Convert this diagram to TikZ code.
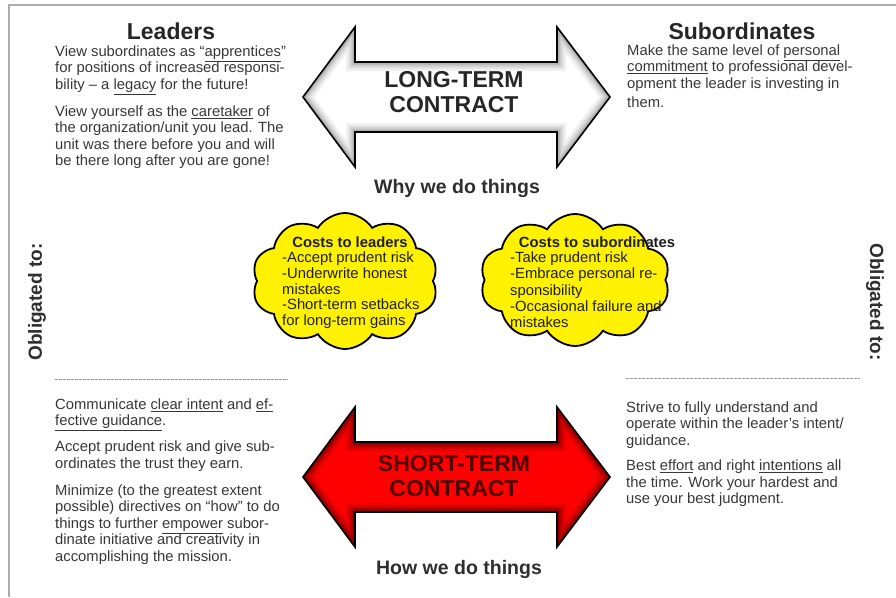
\documentclass[tikz,border=0pt]{standalone}
\usepackage{fontspec}
\setmainfont{Liberation Sans}
\usetikzlibrary{shapes.symbols,positioning}
% outline of a two-headed arrow centred on height #1
\newcommand\twohead[1]{(303,#1) -- (355,{#1-70}) -- (355,{#1-35}) -- (557,{#1-35}) -- (557,{#1-70}) -- (610,#1) -- (557,{#1+70}) -- (557,{#1+35}) -- (355,{#1+35}) -- (355,{#1+70}) -- cycle}
\begin{document}
\begin{tikzpicture}[x=1pt,y=-1pt,
  hd/.style={font=\fontsize{23}{26}\selectfont\bfseries,text=black!85,inner sep=0pt},
  txt/.style={font=\fontsize{14.8}{16.5}\selectfont,text=black!78,align=left,inner sep=0pt,anchor=north west},
  ctxt/.style={font=\fontsize{14.8}{15.8}\selectfont,text=black!88,align=left,inner sep=0pt},
  big/.style={font=\fontsize{23}{25}\selectfont\bfseries,align=center,inner sep=0pt},
  sub/.style={font=\fontsize{19.5}{21}\selectfont\bfseries,text=black!82,inner sep=0pt,anchor=base},
  obl/.style={font=\fontsize{19}{21}\selectfont\bfseries,text=black!82,inner sep=0pt},
  cloudy/.style={cloud,cloud puffs=10,cloud puff arc=115,cloud ignores aspect,draw=black,line width=1.8pt,fill=yellow,inner sep=0pt},
  sepline/.style={gray!80,dash pattern=on 2.5pt off 1.5pt,line width=0.8pt}]
\useasboundingbox (0,0) rectangle (896,597);
\fill[white] (0,0) rectangle (896,597);
% frame
\draw[gray!65,line width=1.2pt] (9,597) -- (9,5) -- (896,5);
% long-term arrow
\begin{scope}
  \clip \twohead{97};
  \fill[white] \twohead{97};
  \foreach \w/\c in {18/gray!12,13/gray!25,9/gray!40,5/gray!60}
    \draw[line width=\w pt,\c] \twohead{97};
\end{scope}
\draw[line width=1.6pt,line join=miter] \twohead{97};
% short-term arrow
\begin{scope}
  \clip \twohead{477};
  \fill[red] \twohead{477};
  \foreach \w/\c in {18/red!92!black,13/red!82!black,9/red!70!black,5/red!55!black}
    \draw[line width=\w pt,\c] \twohead{477};
\end{scope}
\draw[line width=1.6pt,line join=miter] \twohead{477};
% headings
\node[hd] (ldr) at (171,31) {Leaders};
\node[hd] (sbd) at (742,31) {Subordinates};
\node[big,text=black!85] (lt) at (454,92.5) {LONG-TERM\\CONTRACT};
\node[big,text=red!30!black] (st) at (454,476.5) {SHORT-TERM\\CONTRACT};
\node[sub] (why) at (457,193.5) {Why we do things};
\node[sub] (how) at (459,574.5) {How we do things};
\node[obl,rotate=90] (oleft) at (37,302) {Obligated to:};
\node[obl,rotate=-90] (oright) at (875,302) {Obligated to:};
% long-term obligations
\node[txt] (ltl) at (55,45.5) {View subordinates as “\underline{apprentices}”\\for positions of increased responsi-\\bility – a \underline{legacy} for the future!\\[10.5pt]View yourself as the \underline{caretaker} of\\the organization/unit you lead. The\\unit was there before you and will\\be there long after you are gone!};
\node[txt] (ltr) at (627,44.5) {Make the same level of \underline{personal}\\\underline{commitment} to professional devel-\\opment the leader is investing in\\[2.5pt]them.};
% costs
\node[cloudy,minimum width=186,minimum height=136] (lc) at (345,281) {};
\node[cloudy,minimum width=190,minimum height=132] (rc) at (575,280) {};
\node[ctxt,font=\fontsize{14.8}{15.8}\selectfont\bfseries] (lch) at (350,242) {Costs to leaders};
\node[ctxt,anchor=north west] (lcb) at (282,251.5) {-Accept prudent risk\\-Underwrite honest\\mistakes\\-Short-term setbacks\\for long-term gains};
\node[ctxt,font=\fontsize{14.8}{15.8}\selectfont\bfseries] (rch) at (597,242) {Costs to subordinates};
\node[ctxt,anchor=north west,font=\fontsize{14.8}{16.3}\selectfont] (rcb) at (510,251.5) {-Take prudent risk\\-Embrace personal re-\\sponsibility\\-Occasional failure and\\mistakes};
% separators
\coordinate (sl1) at (55,379);
\coordinate (sl2) at (288,379);
\coordinate (sr1) at (626,378);
\coordinate (sr2) at (860,378);
\draw[sepline] (sl1) -- (sl2);
\draw[sepline] (sr1) -- (sr2);
% short-term obligations
\node[txt] (stl) at (55,398.5) {Communicate \underline{clear intent} and \underline{ef-}\\\underline{fective guidance}.\\[9.5pt]Accept prudent risk and give sub-\\ordinates the trust they earn.\\[10.5pt]Minimize (to the greatest extent\\possible) directives on “how” to do\\things to further \underline{empower} subor-\\dinate initiative and creativity in\\accomplishing the mission.};
\node[txt] (str) at (626,401.5) {Strive to fully understand and\\operate within the leader’s intent/\\guidance.\\[9pt]Best \underline{effort} and right \underline{intentions} all\\the time. Work your hardest and\\use your best judgment.};
\end{tikzpicture}
\end{document}
